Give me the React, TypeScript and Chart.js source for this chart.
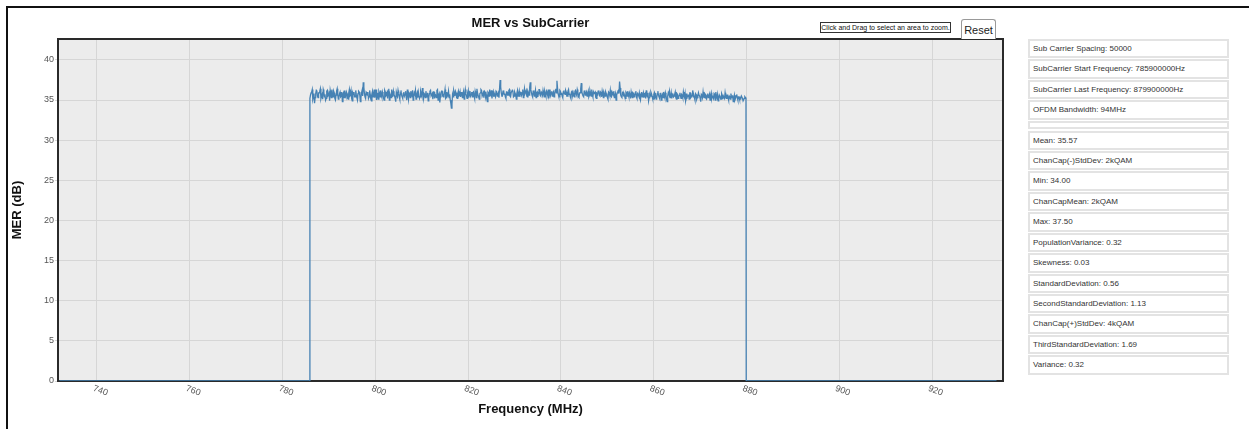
import React, { useEffect, useRef } from "react";
import { Chart, registerables } from "chart.js";

Chart.register(...registerables);

const chartTitle = "MER vs SubCarrier";
const xAxisTitle = "Frequency (MHz)";
const yAxisTitle = "MER (dB)";

// Band of subcarriers (MHz), every 0.25 MHz
const bandStartMHz = 785.9;
const bandStepMHz = 0.25;
const merValues = [
  35.2, 35.9, 36.3, 35.4, 34.6, 35.8, 36.1, 35.3, 35.9, 36.4, 35.5, 35.1, 36.0, 35.7, 35.2, 36.2, 35.6, 34.9, 35.8, 36.3,
  35.4, 35.9, 35.0, 36.1, 35.7, 35.3, 36.0, 35.5, 34.8, 35.9, 36.2, 35.4, 35.8, 35.1, 36.3, 35.6, 35.2, 35.9, 36.0, 35.4,
  35.7, 35.0, 36.1, 35.6, 35.3, 36.2, 37.2, 35.8, 35.2, 35.9, 36.0, 35.4, 35.7, 34.9, 36.1, 35.6, 35.3, 36.3, 35.5, 35.1,
  35.9, 36.2, 35.4, 35.7, 35.0, 36.0, 35.6, 35.2, 36.4, 35.8, 35.3, 35.9, 36.1, 35.5, 34.8, 35.7, 36.2, 35.4, 35.9, 35.6,
  35.2, 36.0, 35.7, 35.4, 36.3, 35.1, 35.8, 36.1, 35.5, 35.0, 35.9, 36.2, 35.6, 35.3, 36.0, 35.4, 35.8, 36.5, 35.2, 35.7,
  36.1, 35.4, 34.9, 35.8, 36.2, 35.5, 35.1, 36.0, 35.7, 35.3, 36.3, 35.6, 34.7, 35.9, 36.1, 35.4, 35.8, 35.2, 36.0, 35.6,
  35.3, 35.0, 34.0, 35.7, 36.2, 35.5, 35.9, 35.2, 36.1, 35.6, 35.4, 36.0, 35.8, 35.1, 36.3, 35.5, 35.9, 35.3, 36.1, 35.7,
  35.4, 36.0, 35.2, 35.8, 36.4, 35.6, 35.1, 35.9, 36.2, 35.5, 35.3, 36.0, 35.7, 34.8, 35.9, 36.3, 35.6, 35.2, 36.1, 35.8,
  35.4, 36.0, 35.7, 35.3, 37.5, 35.9, 35.5, 36.2, 35.8, 35.2, 36.0, 35.6, 36.3, 35.4, 35.9, 36.1, 35.5, 35.8, 35.1, 36.2,
  35.7, 35.4, 36.0, 35.9, 35.3, 36.4, 35.8, 35.5, 36.1, 35.6, 37.2, 35.9, 35.4, 36.2, 35.7, 35.3, 36.0, 35.8, 36.3, 35.5,
  35.9, 36.2, 35.4, 35.8, 36.1, 35.6, 35.2, 36.3, 35.9, 35.5, 36.0, 35.7, 36.4, 37.4, 35.8, 35.4, 36.1, 35.9, 35.3, 36.2,
  35.7, 36.0, 35.5, 36.3, 35.8, 35.2, 36.1, 35.9, 35.4, 36.2, 35.6, 36.0, 35.3, 35.9, 37.1, 35.7, 35.4, 36.2, 35.8, 35.5,
  36.1, 35.6, 35.9, 36.3, 35.4, 35.8, 36.0, 35.2, 35.7, 36.2, 35.5, 35.9, 36.1, 35.3, 35.8, 36.0, 35.6, 35.1, 35.9, 36.2,
  35.4, 35.8, 36.1, 35.5, 35.0, 35.9, 36.2, 37.3, 35.6, 35.3, 36.0, 35.7, 35.2, 35.9, 36.1, 35.4, 35.7, 36.0, 35.3, 35.8,
  35.5, 36.1, 35.2, 35.7, 35.9, 35.0, 36.0, 35.6, 35.3, 35.8, 36.2, 35.4, 34.9, 35.7, 36.0, 35.5, 35.1, 35.9, 35.6, 35.2,
  36.1, 35.4, 35.8, 35.0, 35.7, 36.0, 35.3, 35.6, 34.8, 35.9, 36.1, 35.4, 35.2, 35.8, 35.5, 36.0, 35.1, 35.7, 35.4, 35.9,
  35.2, 35.6, 36.0, 35.3, 34.9, 35.8, 35.5, 35.1, 35.9, 35.4, 36.2, 35.6, 35.0, 35.7, 35.3, 35.9, 35.5, 34.8, 35.6, 36.0,
  35.3, 35.7, 35.1, 35.8, 35.4, 35.0, 35.9, 35.5, 35.2, 35.7, 36.0, 35.3, 34.9, 35.6, 35.4, 35.8, 35.1, 35.5, 35.9, 35.2,
  35.6, 35.0, 35.4, 35.8, 35.3, 34.8, 35.6, 35.2, 35.7, 35.0, 35.4, 35.1, 35.5, 35.2, 34.9, 35.4, 35.1,
];
// Readings half-way between the samples above (786.025, 786.275, ...)
const merValuesMid = [
  35.6, 36.0, 35.1, 35.8, 35.3, 36.2, 35.5, 35.9, 36.1, 35.2, 35.7, 36.3, 35.4, 35.0, 36.1, 35.5, 35.8, 36.2, 35.3, 35.7,
  36.1, 35.2, 35.6, 36.4, 35.1, 35.8, 35.4, 36.0, 35.7, 35.3, 35.6, 36.0, 35.2, 35.9, 35.5, 36.1, 34.9, 35.7, 35.4, 36.2,
  35.3, 35.8, 36.0, 34.8, 35.9, 35.5, 36.6, 35.4, 36.0, 35.6, 35.2, 36.2, 35.1, 35.8, 35.4, 36.3, 35.7, 35.0, 35.9, 36.1,
  35.4, 35.7, 36.0, 35.2, 36.2, 35.5, 35.9, 36.1, 35.0, 35.6, 36.3, 35.4, 35.7, 35.2, 36.0, 35.5, 35.8, 35.1, 36.2, 35.4,
  35.8, 35.5, 36.1, 35.0, 35.7, 35.9, 35.3, 35.6, 36.2, 35.4, 35.7, 35.1, 35.9, 36.0, 35.2, 36.1, 35.5, 35.9, 35.8, 35.3,
  35.6, 35.9, 35.3, 36.1, 35.5, 35.8, 36.0, 35.2, 35.6, 36.2, 35.0, 35.8, 35.4, 36.1, 35.5, 35.7, 36.3, 35.3, 35.5, 36.1,
  35.7, 34.6, 34.5, 35.4, 35.9, 36.1, 35.3, 35.8, 35.5, 36.0, 35.9, 35.3, 36.1, 35.6, 35.8, 35.2, 36.2, 35.7, 35.5, 36.0,
  35.9, 35.5, 36.1, 35.3, 35.9, 35.4, 35.8, 36.3, 35.5, 35.9, 36.1, 35.4, 35.2, 36.0, 35.5, 35.7, 36.2, 35.9, 35.4, 35.6,
  36.1, 35.5, 35.9, 36.4, 36.6, 35.5, 36.1, 35.7, 35.4, 36.0, 35.6, 36.2, 35.5, 35.9, 36.2, 35.4, 36.0, 35.6, 35.9, 35.5,
  36.1, 35.9, 35.6, 36.3, 35.7, 35.8, 36.2, 35.4, 35.9, 36.6, 36.3, 35.6, 36.1, 35.5, 36.2, 35.9, 35.4, 36.3, 35.6, 36.0,
  35.6, 35.8, 36.1, 35.5, 35.9, 36.3, 35.7, 35.6, 36.1, 35.8, 35.4, 36.2, 35.9, 36.5, 35.5, 36.2, 35.7, 35.5, 36.0, 35.8,
  36.2, 35.5, 36.1, 35.7, 35.4, 36.0, 35.6, 35.5, 36.1, 35.8, 36.3, 35.4, 35.9, 36.4, 36.0, 35.5, 36.1, 35.6, 36.0, 35.8,
  35.4, 36.2, 35.5, 35.7, 36.0, 35.9, 35.3, 35.8, 36.1, 35.6, 36.0, 35.4, 35.7, 36.0, 35.5, 35.8, 35.3, 36.0, 35.6, 35.5,
  36.0, 35.6, 35.3, 35.8, 35.6, 36.1, 35.8, 36.5, 35.4, 35.9, 35.6, 35.4, 36.0, 35.5, 35.7, 35.9, 35.2, 35.6, 35.9, 35.4,
  35.9, 35.4, 35.8, 35.5, 35.3, 35.7, 35.4, 35.9, 35.7, 35.2, 35.6, 35.9, 35.3, 35.5, 35.8, 35.2, 35.7, 35.4, 35.1, 35.8,
  35.6, 35.2, 35.9, 35.5, 35.3, 35.6, 35.9, 35.1, 35.5, 35.7, 35.3, 35.9, 35.6, 35.4, 35.7, 35.3, 35.8, 35.2, 35.6, 35.5,
  35.7, 35.3, 35.5, 35.8, 35.2, 35.4, 35.7, 35.9, 35.3, 35.6, 35.4, 35.3, 35.8, 35.1, 35.5, 35.6, 35.2, 35.7, 35.3, 35.4,
  35.8, 35.2, 35.5, 35.3, 35.7, 35.6, 35.2, 35.4, 35.8, 35.0, 35.5, 35.7, 35.3, 35.4, 35.1, 35.6, 35.5, 35.2, 35.4, 35.6,
  35.3, 35.5, 35.1, 35.4, 35.6, 35.2, 35.0, 35.5, 35.3, 35.4, 35.1, 35.3, 35.5, 34.9, 35.2, 35.3,
];

// Zero-valued points outside the OFDM band
const lowEdgeFreqs = [731.9, 785.85];
const lowEdgeMer = [0, 0];
const highEdgeFreqs = [879.95, 933.9];
const highEdgeMer = [0, 0];

// Axis ranges
const xMin = 731.6;
const xMax = 935.3;
const xStep = 20;
const yMin = 0;
const yMax = 42.6;
const yStep = 5;

const infoLines = [
  "Sub Carrier Spacing: 50000",
  "SubCarrier Start Frequency: 785900000Hz",
  "SubCarrier Last Frequency: 879900000Hz",
  "OFDM Bandwidth: 94MHz",
];
const statLines = [
  "Mean: 35.57",
  "ChanCap(-)StdDev: 2kQAM",
  "Min: 34.00",
  "ChanCapMean: 2kQAM",
  "Max: 37.50",
  "PopulationVariance: 0.32",
  "Skewness: 0.03",
  "StandardDeviation: 0.56",
  "SecondStandardDeviation: 1.13",
  "ChanCap(+)StdDev: 4kQAM",
  "ThirdStandardDeviation: 1.69",
  "Variance: 0.32",
];

const FONT = "'Liberation Sans', Arial, Helvetica, sans-serif";

const plotDecor = {
  id: "plotDecor",
  beforeDraw(chart: any) {
    const { ctx, chartArea: a } = chart;
    ctx.save();
    ctx.fillStyle = "#ececec";
    ctx.fillRect(a.left, a.top, a.right - a.left, a.bottom - a.top);
    ctx.restore();
  },
  beforeDatasetsDraw(chart: any) {
    const { ctx, chartArea: a } = chart;
    ctx.save();
    ctx.strokeStyle = "#2a2a2a";
    ctx.lineWidth = 2;
    ctx.strokeRect(a.left, a.top, a.right - a.left, a.bottom - a.top);
    ctx.restore();
  },
  afterDraw(chart: any) {
    const { ctx, chartArea: a } = chart;
    const xs = chart.scales.x;
    ctx.save();
    ctx.font = `9px ${FONT}`;
    ctx.fillStyle = "#555";
    ctx.textAlign = "left";
    ctx.textBaseline = "top";
    xs.ticks.forEach((t: any) => {
      const px = xs.getPixelForValue(t.value);
      ctx.save();
      ctx.translate(px - 2, a.bottom + 3);
      ctx.rotate((20 * Math.PI) / 180);
      ctx.fillText(String(t.value), 0, 0);
      ctx.restore();
    });
    ctx.restore();
  },
};

export default function App() {
  const ref = useRef<HTMLCanvasElement>(null);

  useEffect(() => {
    if (!ref.current) return;
    const points: { x: number; y: number }[] = [];
    lowEdgeFreqs.forEach((f, i) => points.push({ x: f, y: lowEdgeMer[i] }));
    merValues.forEach((v, i) => {
      const f = bandStartMHz + i * bandStepMHz;
      points.push({ x: f, y: v });
      if (i < merValuesMid.length) points.push({ x: f + bandStepMHz / 2, y: merValuesMid[i] });
    });
    highEdgeFreqs.forEach((f, i) => points.push({ x: f, y: highEdgeMer[i] }));

    const chart = new Chart(ref.current, {
      type: "line",
      data: {
        datasets: [
          {
            data: points,
            borderColor: "#4682b4",
            borderWidth: 1.3,
            pointRadius: 0,
            tension: 0,
            fill: false,
          },
        ],
      },
      options: {
        animation: false,
        responsive: false,
        events: [],
        layout: { padding: { left: 0, right: 15, top: 0, bottom: 0 } },
        plugins: {
          legend: { display: false },
          tooltip: { enabled: false },
          title: {
            display: true,
            text: chartTitle,
            fullSize: false,
            color: "#111",
            font: { family: FONT, size: 13, weight: "bold" },
            padding: { top: 8, bottom: 7.4 },
          },
        },
        scales: {
          x: {
            type: "linear",
            min: xMin,
            max: xMax,
            border: { display: false },
            grid: { color: "#d6d6d6", lineWidth: 1, drawTicks: false },
            ticks: { stepSize: xStep, includeBounds: false, display: false },
            title: {
              display: true,
              text: xAxisTitle,
              color: "#111",
              font: { family: FONT, size: 13, weight: "bold" },
              padding: { top: 0, bottom: 12 },
            },
            afterFit: (s: any) => {
              s.height = 48;
            },
          },
          y: {
            type: "linear",
            min: yMin,
            max: yMax,
            border: { display: false },
            grid: { color: "#d6d6d6", lineWidth: 1, tickLength: 3 },
            ticks: {
              stepSize: yStep,
              includeBounds: false,
              color: "#555",
              padding: 1,
              font: { family: FONT, size: 9 },
            },
            title: {
              display: true,
              text: yAxisTitle,
              color: "#111",
              font: { family: FONT, size: 13, weight: "bold" },
              padding: { top: 2, bottom: 0 },
            },
            afterFit: (s: any) => {
              s.width = 50;
            },
          },
        },
      } as any,
      plugins: [plotDecor],
    });
    return () => chart.destroy();
  }, []);

  const boxStyle: React.CSSProperties = {
    boxSizing: "border-box",
    height: 19.4,
    marginBottom: 1,
    border: "2px solid #e3e3e3",
    paddingLeft: 3,
    fontSize: 8,
    lineHeight: "15.4px",
    color: "#333",
    whiteSpace: "nowrap",
    background: "#fff",
  };

  return (
    <div
      style={{
        position: "fixed",
        inset: 0,
        overflow: "hidden",
        background: "#fff",
        fontFamily: FONT,
      }}
    >
      <div
        style={{
          position: "absolute",
          left: 6,
          top: 6,
          width: 1400,
          height: 600,
          border: "2px solid #111",
          boxSizing: "border-box",
        }}
      />
      <canvas
        ref={ref}
        width={1010}
        height={421}
        style={{ position: "absolute", left: 8, top: 8, width: 1010, height: 421 }}
      />
      <div
        style={{
          position: "absolute",
          left: 820,
          top: 22,
          width: 131,
          height: 11,
          boxSizing: "border-box",
          border: "1px solid #333",
          background: "#fff",
          fontSize: 7,
          lineHeight: "9px",
          textAlign: "center",
          color: "#111",
          whiteSpace: "nowrap",
          overflow: "hidden",
        }}
      >
        Click and Drag to select an area to zoom.
      </div>
      <div
        style={{
          position: "absolute",
          left: 961,
          top: 19,
          width: 35,
          height: 20,
          boxSizing: "border-box",
          border: "1px solid #999",
          borderBottom: "none",
          borderRadius: "3px 3px 0 0",
          background: "#fff",
          fontSize: 11,
          lineHeight: "20px",
          textAlign: "center",
          color: "#222",
        }}
      >
        Reset
      </div>
      <div style={{ position: "absolute", left: 1028, top: 39, width: 201 }}>
        {infoLines.map((t) => (
          <div key={t} style={boxStyle}>
            {t}
          </div>
        ))}
        <div style={{ ...boxStyle, height: 8.6, marginBottom: 1.4 }} />
        {statLines.map((t) => (
          <div key={t} style={{ ...boxStyle, height: 19.45 }}>
            {t}
          </div>
        ))}
      </div>
    </div>
  );
}
